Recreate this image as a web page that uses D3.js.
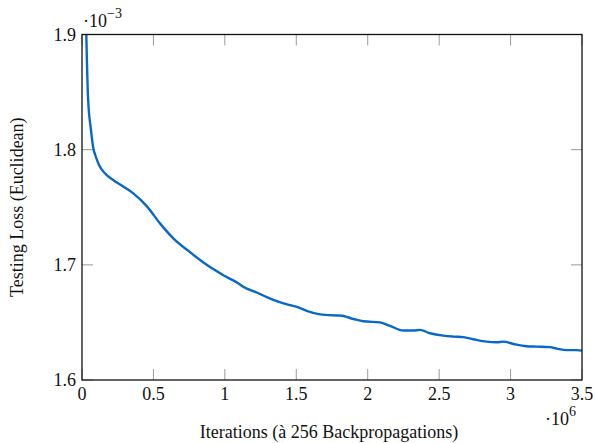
<!DOCTYPE html>
<html>
<head>
<meta charset="utf-8">
<script src="https://cdn.jsdelivr.net/npm/d3@7"></script>
<style>
  body { margin: 0; background: #fff; }
  svg { display: block; font-family: "Liberation Serif", "DejaVu Serif", serif; }
</style>
</head>
<body>
<svg id="chart" width="596" height="443"></svg>
<script>
// ===== DATA =====
// iterations (x) and testing loss (y, in units of 1e-3)
const iterations = [
  20000, 30100, 42000, 63000, 79100, 95000, 120000, 160000, 220000, 289100, 359100, 452900,
  546000, 639100, 756000, 872900, 989100, 1106000, 1129100, 1222900, 1292900, 1374100,
  1456000, 1514100, 1572900, 1666000, 1782900, 1806000, 1899100, 1969100, 2086000, 2156000,
  2249100, 2319100, 2366000, 2436000, 2529100, 2599100, 2669100, 2739100, 2832900, 2902900,
  2949100, 3019100, 3112900, 3182900, 3276000, 3322900, 3392900, 3462900, 3500000
];
const loss = [
  1.960, 1.900, 1.846, 1.817, 1.8015, 1.7945, 1.7865, 1.7795, 1.7735, 1.768, 1.762, 1.751,
  1.736, 1.723, 1.711, 1.700, 1.691, 1.683, 1.681, 1.676, 1.672, 1.668,
  1.665, 1.663, 1.660, 1.657, 1.656, 1.656, 1.653, 1.651, 1.650, 1.647,
  1.643, 1.643, 1.6435, 1.6406, 1.6385, 1.6377, 1.6372, 1.6354, 1.6333, 1.6328,
  1.6333, 1.6313, 1.6293, 1.6290, 1.6285, 1.6273, 1.6259, 1.6259, 1.6255
];
const xTicks = [0, 0.5e6, 1e6, 1.5e6, 2e6, 2.5e6, 3e6, 3.5e6];
const yTicks = [1.6, 1.7, 1.8, 1.9];

// ===== LAYOUT =====
const svg = d3.select('#chart');
const margin = { top: 34.5, right: 14, bottom: 63, left: 82 };
const width = 596, height = 443;
const innerW = width - margin.left - margin.right;
const innerH = height - margin.top - margin.bottom;

const x = d3.scaleLinear().domain([0, 3.5e6]).range([0, innerW]);
const y = d3.scaleLinear().domain([1.6, 1.9]).range([innerH, 0]);

const g = svg.append('g').attr('transform', `translate(${margin.left},${margin.top})`);

svg.append('defs').append('clipPath').attr('id', 'clip')
  .append('rect').attr('width', innerW).attr('height', innerH);

// ticks (inside, mirrored on both sides)
const tickLen = 11;
const tickColor = '#9a9a9a';
xTicks.forEach(t => {
  g.append('line').attr('x1', x(t)).attr('x2', x(t)).attr('y1', innerH).attr('y2', innerH - tickLen)
    .attr('stroke', tickColor).attr('stroke-width', 1);
  g.append('line').attr('x1', x(t)).attr('x2', x(t)).attr('y1', 0).attr('y2', tickLen)
    .attr('stroke', tickColor).attr('stroke-width', 1);
  g.append('text').attr('x', x(t)).attr('y', innerH + 20)
    .attr('text-anchor', 'middle').style('font-size', '18px').attr('fill', '#111')
    .text(d3.format('')(t / 1e6));
});
yTicks.forEach(t => {
  g.append('line').attr('x1', 0).attr('x2', tickLen).attr('y1', y(t)).attr('y2', y(t))
    .attr('stroke', tickColor).attr('stroke-width', 1);
  g.append('line').attr('x1', innerW).attr('x2', innerW - tickLen).attr('y1', y(t)).attr('y2', y(t))
    .attr('stroke', tickColor).attr('stroke-width', 1);
  g.append('text').attr('x', -6).attr('y', y(t)).attr('dy', '0.35em')
    .attr('text-anchor', 'end').style('font-size', '18px').attr('fill', '#111')
    .text(d3.format('.1f')(t));
});

// line
const line = d3.line()
  .x((d, i) => x(iterations[i]))
  .y(d => y(d))
  .curve(d3.curveMonotoneX);

g.append('path')
  .datum(loss)
  .attr('clip-path', 'url(#clip)')
  .attr('fill', 'none')
  .attr('stroke', '#0868c8')
  .attr('stroke-width', 2.4)
  .attr('stroke-linejoin', 'round')
  .attr('d', line);

// frame
g.append('rect').attr('width', innerW).attr('height', innerH)
  .attr('fill', 'none').attr('stroke', '#111').attr('stroke-width', 1.3);

// scale labels
const yExp = svg.append('text').attr('x', 83).attr('y', 27).attr('fill', '#111').style('font-size', '18px');
yExp.append('tspan').text('·10');
yExp.append('tspan').attr('dy', -9).style('font-size', '14px').text('−3');

const xExp = svg.append('text').attr('x', 545).attr('y', 425).attr('fill', '#111').style('font-size', '18px');
xExp.append('tspan').text('·10');
xExp.append('tspan').attr('dy', -9).style('font-size', '14px').text('6');

// axis titles
svg.append('text')
  .attr('x', margin.left + innerW / 2 - 3).attr('y', 438)
  .attr('text-anchor', 'middle').style('font-size', '18px').attr('fill', '#111')
  .text('Iterations (à 256 Backpropagations)');

svg.append('text')
  .attr('transform', `translate(23,${margin.top + innerH / 2}) rotate(-90)`)
  .attr('text-anchor', 'middle').style('font-size', '18px').attr('fill', '#111')
  .text('Testing Loss (Euclidean)');
</script>
</body>
</html>
